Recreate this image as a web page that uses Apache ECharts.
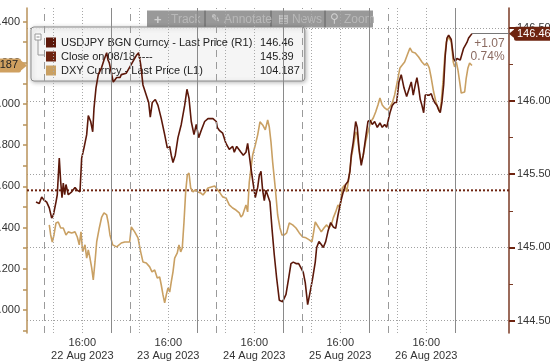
<!DOCTYPE html>
<html>
<head>
<meta charset="utf-8">
<script src="https://cdn.jsdelivr.net/npm/echarts@6/dist/echarts.min.js"></script>
<style>
html,body{margin:0;padding:0;background:#fff;}
#c{width:550px;height:362px;}
</style>
</head>
<body>
<div id="c"></div>
<script>
// Hours since 22 Aug 2023 00:00 → price
var usdjpyData = [[3.07,145.31],[3.99,145.30],[4.66,145.345],[5.30,145.324],[6.06,145.31],[6.78,145.27],[7.45,145.20],[7.90,145.22],[8.65,145.31],[9.01,145.36],[9.57,145.61],[9.96,145.45],[10.33,145.34],[10.69,145.44],[11.08,145.36],[11.44,145.43],[12.08,145.36],[13.03,145.38],[13.96,145.41],[14.60,145.39],[15.35,145.38],[15.82,145.61],[16.47,145.68],[17.22,145.77],[17.67,145.90],[18.34,145.86],[18.90,145.79],[19.26,145.95],[19.82,146.09],[20.46,146.18],[21.41,146.23],[22.05,146.28],[22.80,146.33],[23.17,146.28],[23.53,146.26],[24.64,146.13],[25.59,146.16],[26.51,146.16],[26.88,146.18],[28.27,146.19],[29.67,146.25],[31.06,146.31],[31.73,146.33],[32.29,146.25],[32.93,146.11],[33.86,146.04],[34.52,145.99],[34.97,145.89],[35.53,145.99],[36.37,146.01],[37.12,145.97],[38.04,145.88],[38.99,145.77],[39.72,145.68],[40.39,145.69],[40.83,145.63],[41.31,145.58],[41.95,145.63],[42.70,145.75],[43.62,145.84],[44.57,145.97],[45.21,146.08],[45.77,146.02],[46.41,145.86],[47.17,145.77],[47.81,145.84],[48.48,145.75],[49.21,145.80],[50.15,145.86],[51.08,145.88],[52.47,145.88],[53.39,145.86],[53.67,145.82],[54.23,145.80],[55.18,145.78],[56.10,145.71],[57.02,145.67],[57.97,145.69],[58.42,145.65],[59.09,145.69],[59.64,145.70],[60.29,145.65],[60.93,145.63],[61.68,145.65],[62.15,145.71],[62.60,145.63],[63.08,145.54],[63.72,145.43],[64.28,145.34],[64.95,145.41],[65.39,145.49],[65.87,145.52],[66.34,145.39],[66.79,145.32],[67.26,145.39],[67.74,145.39],[68.38,145.31],[68.94,145.13],[69.58,144.95],[70.25,144.79],[70.98,144.64],[71.92,144.63],[72.85,144.68],[73.60,144.79],[74.24,144.89],[74.88,144.90],[75.64,144.89],[76.39,144.89],[77.03,144.86],[77.67,144.83],[78.23,144.76],[78.90,144.61],[79.54,144.69],[80.30,144.79],[81.02,144.90],[81.41,145.00],[82.05,145.04],[82.70,145.02],[83.26,145.00],[83.93,145.04],[84.57,145.11],[85.32,145.17],[86.05,145.14],[86.72,145.13],[87.36,145.22],[88.11,145.31],[88.84,145.38],[89.51,145.43],[90.15,145.45],[90.71,145.52],[91.07,145.63],[91.63,145.72],[92.30,145.86],[92.74,145.82],[93.22,145.68],[93.86,145.56],[94.42,145.63],[95.09,145.75],[95.73,145.86],[96.29,145.87],[96.93,145.84],[97.60,145.86],[98.33,145.82],[99.08,145.85],[99.72,145.82],[100.39,145.84],[100.95,145.82],[101.87,145.92],[102.51,145.97],[103.18,145.99],[103.74,145.99],[104.38,146.13],[105.02,146.18],[105.78,146.09],[106.53,146.03],[107.17,146.08],[107.82,146.13],[108.37,146.04],[108.93,146.11],[109.40,146.16],[109.88,146.09],[110.33,146.01],[110.80,145.97],[111.28,145.92],[111.72,146.04],[112.20,146.05],[112.84,146.04],[113.40,146.05],[113.79,146.02],[114.35,145.99],[114.99,145.97],[115.46,145.94],[115.91,145.92],[116.38,145.99],[116.86,146.11],[117.30,146.31],[117.78,146.43],[118.25,146.45],[118.98,146.42],[119.65,146.29],[120.09,146.27],[120.57,146.29],[121.04,146.30],[121.49,146.28],[121.96,146.27],[122.43,146.36],[122.88,146.37],[123.36,146.40],[123.83,146.43],[124.28,146.44],[124.76,146.46]];

var dxyData = [[6.78,103.413],[7.17,103.364],[7.62,103.330],[8.09,103.364],[8.65,103.422],[9.29,103.427],[9.96,103.398],[10.69,103.398],[11.44,103.364],[12.08,103.379],[13.03,103.374],[13.96,103.379],[14.60,103.354],[15.15,103.316],[15.63,103.379],[16.10,103.282],[16.75,103.316],[17.22,103.252],[17.67,103.291],[18.14,103.252],[18.62,103.204],[19.06,103.146],[19.54,103.233],[20.01,103.330],[20.74,103.398],[21.41,103.451],[22.05,103.471],[22.80,103.461],[23.25,103.422],[23.72,103.364],[24.48,103.316],[25.59,103.306],[26.88,103.325],[27.83,103.330],[29.22,103.330],[29.67,103.403],[30.62,103.379],[31.54,103.350],[32.29,103.282],[32.93,103.233],[33.86,103.228],[34.80,103.209],[35.45,103.185],[36.20,103.194],[36.92,103.155],[37.59,103.160],[38.04,103.121],[38.52,103.073],[38.99,103.034],[39.44,103.073],[39.91,103.107],[40.39,103.087],[40.83,103.136],[41.31,103.185],[41.78,103.252],[42.51,103.277],[42.98,103.316],[43.46,103.282],[43.90,103.301],[44.38,103.427],[44.85,103.573],[45.30,103.655],[45.77,103.665],[46.25,103.592],[46.89,103.573],[47.53,103.583],[48.28,103.573],[49.04,103.568],[49.68,103.558],[50.32,103.573],[51.08,103.592],[52.00,103.597],[52.95,103.602],[53.31,103.607],[54.23,103.573],[55.18,103.549],[56.10,103.544],[57.02,103.510],[57.97,103.495],[58.89,103.485],[59.81,103.471],[60.29,103.451],[60.76,103.461],[61.21,103.485],[61.68,103.510],[62.15,103.476],[62.60,103.621],[63.08,103.689],[63.55,103.752],[64.28,103.801],[64.95,103.850],[65.59,103.913],[66.34,103.898],[67.07,103.874],[67.74,103.922],[68.19,103.888],[68.66,103.816],[69.13,103.718],[69.86,103.592],[70.53,103.461],[71.17,103.398],[71.73,103.364],[72.37,103.364],[73.04,103.374],[73.77,103.422],[74.71,103.413],[75.64,103.398],[76.56,103.374],[77.51,103.354],[78.43,103.350],[79.35,103.340],[80.10,103.330],[80.58,103.379],[81.02,103.427],[81.41,103.427],[82.05,103.398],[82.70,103.379],[83.45,103.398],[84.20,103.413],[84.85,103.398],[85.49,103.413],[86.05,103.447],[86.72,103.476],[87.36,103.510],[87.92,103.495],[88.56,103.592],[89.23,103.607],[89.79,103.573],[90.43,103.641],[91.07,103.738],[91.63,103.791],[92.30,103.864],[92.74,103.850],[93.41,103.752],[93.86,103.718],[94.42,103.752],[95.09,103.816],[95.73,103.864],[96.49,103.913],[97.21,103.932],[97.88,103.961],[98.52,103.995],[99.08,104.029],[99.72,103.995],[100.39,103.981],[101.12,103.971],[101.87,103.985],[102.51,104.005],[103.18,104.044],[103.91,104.107],[104.66,104.175],[105.30,104.189],[105.97,104.204],[106.70,104.238],[107.45,104.272],[108.10,104.252],[108.93,104.248],[109.88,104.228],[110.80,104.204],[111.56,104.189],[112.20,104.199],[112.84,104.175],[113.40,104.126],[114.07,104.058],[114.71,104.010],[115.27,103.981],[115.75,103.961],[116.19,104.010],[116.67,104.107],[117.14,104.223],[117.59,104.301],[118.25,104.325],[118.98,104.301],[119.54,104.204],[119.93,104.180],[120.38,104.204],[120.85,104.165],[121.33,104.107],[121.77,104.053],[122.25,104.049],[122.72,104.058],[123.16,104.126],[123.64,104.175],[124.11,104.199],[124.76,104.187]];

var closeValue = 145.39;
var lastUsdjpy = 146.46;
var lastDxy = 104.187;
var changeText = ['+1.07', '0.74%'];

var seriesNames = ['USDJPY BGN Curncy - Last Price (R1)', 'Close on 08/18 ----', 'DXY Curncy - Last Price (L1)'];
var legendValues = ['146.46', '145.39', '104.187'];

var xTickHours = [16, 40, 64, 88, 112];
var xTickLabels = ['16:00\n22 Aug 2023', '16:00\n23 Aug 2023', '16:00\n24 Aug 2023', '16:00\n25 Aug 2023', '16:00\n26 Aug 2023'];
var dayStarts = [24, 48, 72, 96, 120];
var sessionOpens = [5.5, 29.5, 53.5, 77.5, 101.5];
var marketOpens = [8, 32, 56, 80, 104];

var leftTicks = [102.9, 103.0, 103.1, 103.2, 103.3, 103.4, 103.5, 103.6, 103.7, 103.8, 103.9, 104.0, 104.1, 104.2, 104.3, 104.4];
var leftLabels = [103.0, 103.2, 103.4, 103.6, 103.8, 104.0, 104.2, 104.4];
var rightMajor = [144.5, 145.0, 145.5, 146.0, 146.5];
var rightMinor = [144.75, 145.25, 145.75, 146.25];

var toolbarItems = ['+', 'Track', '\u270E', 'Annotate', '\u25A4', 'News', '\u26B2', 'Zoom'];

var X_MIN = 0.56, X_MAX = 135.1;
var FONT = 'Liberation Sans, Arial, sans-serif';
var C_JPY = '#5c180a', C_CLOSE = '#6e2410', C_DXY = '#c9a063';

var vLines = [];
dayStarts.forEach(function (h) { vLines.push({ xAxis: h, lineStyle: { color: '#8a8a8a', type: 'solid', width: 1 } }); });
sessionOpens.forEach(function (h) { vLines.push({ xAxis: h, lineStyle: { color: '#9a9a9a', type: [7, 5], width: 1 } }); });
marketOpens.forEach(function (h) { vLines.push({ xAxis: h, lineStyle: { color: '#a8a8a8', type: [1, 2], width: 1 } }); });
xTickHours.forEach(function (h) { vLines.push({ xAxis: h, lineStyle: { color: '#a8a8a8', type: [1, 2], width: 1 } }); });

var chart = echarts.init(document.getElementById('c'), null, { renderer: 'canvas' });
chart.setOption({
  animation: false,
  backgroundColor: '#ffffff',
  grid: { left: 27, right: 41, top: 8, bottom: 29, containLabel: false, outerBoundsMode: 'none' },
  xAxis: {
    type: 'value', min: X_MIN, max: X_MAX,
    axisLine: { show: false }, axisTick: { show: false }, splitLine: { show: false },
    axisLabel: {
      customValues: xTickHours, margin: 3, fontFamily: FONT, fontSize: 11, color: '#333', lineHeight: 13,
      formatter: function (v) { var i = xTickHours.indexOf(v); return i >= 0 ? xTickLabels[i] : ''; }
    }
  },
  yAxis: [
    {
      type: 'value', position: 'left', min: 102.888, max: 104.466,
      axisLine: { show: true, lineStyle: { color: '#b8925a', width: 1.5 } },
      axisTick: { show: true, inside: false, length: 4, customValues: leftTicks, lineStyle: { color: '#b8925a', width: 1.5 } },
      axisLabel: { customValues: leftLabels, margin: 7, fontFamily: FONT, fontSize: 11, color: '#333',
        formatter: function (v) { return v.toFixed(3); } },
      splitLine: { show: false }
    },
    {
      type: 'value', position: 'right', min: 144.416, max: 146.635,
      axisLine: { show: true, lineStyle: { color: '#7a3a25', width: 1.5 } },
      axisTick: { show: true, inside: false, length: 6, customValues: rightMajor, lineStyle: { color: '#6e2410', width: 2 } },
      axisLabel: { customValues: rightMajor, margin: 8, fontFamily: FONT, fontSize: 11, color: '#333',
        formatter: function (v) { return v.toFixed(2); } },
      splitLine: { show: true, lineStyle: { color: '#a0a0a0', type: [1, 2], width: 1 } }
    },
    {
      type: 'value', position: 'right', min: 144.416, max: 146.635,
      axisLine: { show: false },
      axisTick: { show: true, inside: false, length: 4, customValues: rightMinor, lineStyle: { color: '#7a3a25', width: 1 } },
      axisLabel: { show: false }, splitLine: { show: false }
    }
  ],
  legend: {
    left: 31, top: 27, orient: 'vertical', icon: 'rect', itemWidth: 10, itemHeight: 10, itemGap: 3,
    selectedMode: false, data: seriesNames,
    backgroundColor: 'rgba(255,255,255,0.85)', borderColor: '#8c8c8c', borderWidth: 1, borderRadius: 3,
    shadowBlur: 4, shadowColor: 'rgba(0,0,0,0.3)', shadowOffsetX: 1, shadowOffsetY: 1,
    padding: [10, 5, 5, 15],
    textStyle: {
      fontFamily: FONT, fontSize: 11, color: '#222',
      rich: {
        n: { width: 199, fontFamily: FONT, fontSize: 11, color: '#222', lineHeight: 10 },
        v: { fontFamily: FONT, fontSize: 11, color: '#222', lineHeight: 10 }
      }
    },
    formatter: function (name) {
      var i = seriesNames.indexOf(name);
      return '{n|' + name + '}{v|' + legendValues[i] + '}';
    }
  },
  graphic: [
    { type: 'rect', shape: { x: 35, y: 34, width: 6, height: 6 }, style: { fill: '#fff', stroke: '#999', lineWidth: 1 }, z: 200 },
    { type: 'line', shape: { x1: 36.5, y1: 37, x2: 39.5, y2: 37 }, style: { stroke: '#888', lineWidth: 1 }, z: 200 },
    { type: 'polyline', shape: { points: [[38, 40], [38, 55], [44, 55]] }, style: { stroke: '#999', lineWidth: 1, fill: null }, z: 200 },
    {
      type: 'group', left: 147, top: 8, z: 300,
      children: [
        { type: 'rect', shape: { x: 0, y: 0, width: 226, height: 17 }, style: { fill: 'rgba(110,110,110,0.7)' } },
        { type: 'line', shape: { x1: 58, y1: 0, x2: 58, y2: 17 }, style: { stroke: 'rgba(60,60,60,0.6)' } },
        { type: 'line', shape: { x1: 124, y1: 0, x2: 124, y2: 17 }, style: { stroke: 'rgba(60,60,60,0.6)' } },
        { type: 'line', shape: { x1: 178, y1: 0, x2: 178, y2: 17 }, style: { stroke: 'rgba(60,60,60,0.6)' } },
        { type: 'text', x: 7, y: 3, style: { text: toolbarItems[0], fill: '#d0d0d0', font: 'bold 13px ' + FONT } },
        { type: 'text', x: 24, y: 3, style: { text: toolbarItems[1], fill: '#b8b8b8', font: '12px ' + FONT } },
        { type: 'text', x: 64, y: 3, style: { text: toolbarItems[2], fill: '#d0d0d0', font: '11px DejaVu Sans' } },
        { type: 'text', x: 77, y: 3, style: { text: toolbarItems[3], fill: '#b8b8b8', font: '12px ' + FONT } },
        { type: 'text', x: 131, y: 3, style: { text: toolbarItems[4], fill: '#d0d0d0', font: '11px DejaVu Sans' } },
        { type: 'text', x: 145, y: 3, style: { text: toolbarItems[5], fill: '#b8b8b8', font: '12px ' + FONT } },
        { type: 'text', x: 183, y: 2, style: { text: toolbarItems[6], fill: '#d0d0d0', font: '12px DejaVu Sans' } },
        { type: 'text', x: 197, y: 3, style: { text: toolbarItems[7], fill: '#b8b8b8', font: '12px ' + FONT } }
      ]
    }
  ],
  series: [
    {
      name: seriesNames[1], type: 'line', yAxisIndex: 1, z: 1,
      data: [[X_MIN, closeValue], [X_MAX, closeValue]],
      showSymbol: false, silent: true,
      itemStyle: { color: C_CLOSE },
      lineStyle: { color: C_CLOSE, width: 2, type: [2, 2] },
      markLine: { silent: true, symbol: 'none', label: { show: false }, data: vLines }
    },
    {
      name: seriesNames[2], type: 'line', yAxisIndex: 0, z: 3,
      data: dxyData, showSymbol: false, silent: true,
      itemStyle: { color: C_DXY },
      lineStyle: { color: C_DXY, width: 1.6 },
      markLine: {
        silent: true, symbol: 'none',
        data: [[{ coord: [X_MIN, lastDxy] }, { coord: [X_MIN + 0.5, lastDxy] }]],
        lineStyle: { color: 'rgba(0,0,0,0)', width: 1, type: 'solid' },
        label: { show: true, position: 'start', distance: 6, formatter: String(lastDxy),
          backgroundColor: '#cfa060', color: '#222', padding: [2, 3, 1, 3], borderRadius: 2,
          fontFamily: FONT, fontSize: 11 }
      },
      markPoint: {
        silent: true,
        data: [{ coord: [X_MIN, lastDxy], symbol: 'triangle', symbolSize: [10, 6], symbolRotate: -90, symbolOffset: [-3, 0],
          itemStyle: { color: '#cfa060' }, label: { show: false } }]
      }
    },
    {
      name: seriesNames[0], type: 'line', yAxisIndex: 1, z: 4,
      data: usdjpyData, showSymbol: false, silent: true,
      itemStyle: { color: C_JPY },
      lineStyle: { color: C_JPY, width: 1.6 },
      markLine: {
        silent: true, symbol: 'none',
        data: [[{ coord: [usdjpyData[usdjpyData.length - 1][0], lastUsdjpy] }, { coord: [X_MAX, lastUsdjpy] }]],
        lineStyle: { color: '#777', width: 1, type: 'solid' },
        label: { show: true, position: 'end', distance: 5, formatter: lastUsdjpy.toFixed(2),
          backgroundColor: '#6e2410', color: '#fff', padding: [2, 2, 1, 3], borderRadius: 2,
          fontFamily: FONT, fontSize: 11 }
      },
      markPoint: {
        silent: true,
        data: [
          { coord: [X_MAX, lastUsdjpy], symbol: 'triangle', symbolSize: [10, 6], symbolRotate: 90, symbolOffset: [3, 0],
            itemStyle: { color: '#6e2410' }, label: { show: false } },
          { coord: [134.0, 146.35], symbol: 'circle', symbolSize: 1, itemStyle: { color: 'rgba(0,0,0,0)' },
            label: { show: true, position: 'left', distance: 0, formatter: changeText.join('\n'),
              color: '#8a6a60', fontFamily: FONT, fontSize: 12, lineHeight: 13, align: 'right' } }
        ]
      }
    }
  ]
});
</script>
</body>
</html>
